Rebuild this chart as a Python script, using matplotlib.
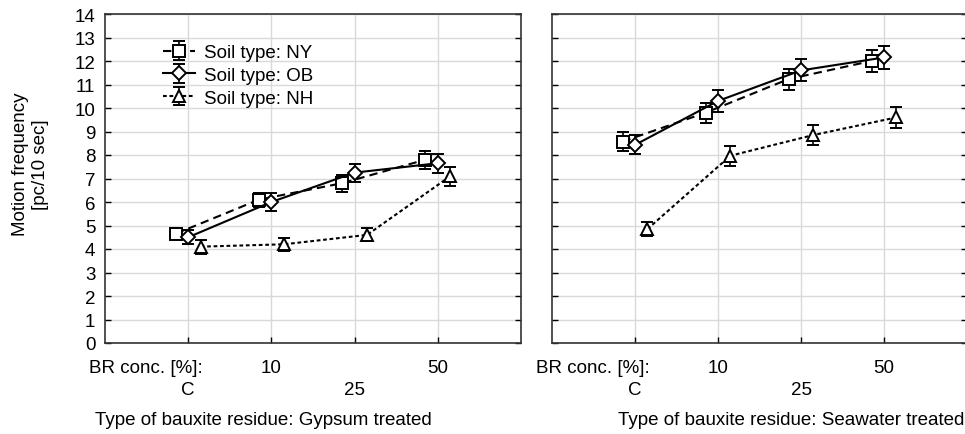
import numpy as np
import matplotlib
matplotlib.use("Agg")
import matplotlib.pyplot as plt

plt.rcParams["font.family"] = ["Liberation Sans", "DejaVu Sans"]

categories = ["C", "10", "25", "50"]
soils = ["Soil type: NY", "Soil type: OB", "Soil type: NH"]

# left panel: gypsum treated
gyp_ny = [4.65, 6.1, 6.8, 7.8]
gyp_ob = [4.5, 6.0, 7.25, 7.65]
gyp_nh = [4.1, 4.2, 4.6, 7.1]
gyp_ny_err = [0.24, 0.3, 0.37, 0.39]
gyp_ob_err = [0.3, 0.37, 0.38, 0.41]
gyp_nh_err = [0.3, 0.28, 0.28, 0.4]

# right panel
sea_ny = [8.57, 9.8, 11.23, 12.0]
sea_ob = [8.43, 10.3, 11.6, 12.15]
sea_nh = [4.85, 7.97, 8.85, 9.6]
sea_ny_err = [0.4, 0.42, 0.45, 0.48]
sea_ob_err = [0.4, 0.47, 0.47, 0.48]
sea_nh_err = [0.31, 0.43, 0.43, 0.45]

titles = ["Type of bauxite residue: Gypsum treated",
          "Type of bauxite residue: Seawater treated"]

styles = [
    dict(marker="s", ms=8.5, ls=(0, (4, 2.5)), dx=-0.15),
    dict(marker="D", ms=7.5, ls="-", dx=0.0),
    dict(marker="^", ms=9, ls=(0, (1.8, 1.3)), dx=0.15),
]

fs = 13.5
fig = plt.figure(figsize=(9.65, 4.35), dpi=100)
ax1 = fig.add_axes([105 / 965, 91 / 435, 416 / 965, 329 / 435])
ax2 = fig.add_axes([552 / 965, 91 / 435, 415 / 965, 329 / 435])

panels = [
    (ax1, [gyp_ny, gyp_ob, gyp_nh], [gyp_ny_err, gyp_ob_err, gyp_nh_err]),
    (ax2, [sea_ny, sea_ob, sea_nh], [sea_ny_err, sea_ob_err, sea_nh_err]),
]

x = np.arange(len(categories))
for ax, vals, errs in panels:
    for st, v, e, lab in zip(styles, vals, errs, soils):
        ax.errorbar(x + st["dx"], v, yerr=e, color="black", lw=1.5,
                    linestyle=st["ls"], marker=st["marker"], ms=st["ms"],
                    mfc="white", mec="black", mew=1.4, capsize=4,
                    elinewidth=1.2, capthick=1.2, label=lab, zorder=3)
    ax.set_xlim(-1, 4)
    ax.set_ylim(0, 14)
    ax.set_yticks(range(0, 15))
    # staggered category labels: 10 and 50 on the first row, C and 25 below
    ax.set_xticks(x[1::2])
    ax.set_xticklabels(categories[1::2])
    ax.set_xticks(x[0::2], minor=True)
    ax.set_xticklabels(categories[0::2], minor=True)
    ax.grid(True, which="both", axis="x", color="#d9d9d9", lw=1)
    ax.grid(True, which="major", axis="y", color="#d9d9d9", lw=1)
    ax.set_axisbelow(True)
    ax.tick_params(which="both", direction="in", length=4, width=1,
                   right=True, labelsize=fs)
    ax.tick_params(axis="x", which="major", pad=11.5)
    ax.tick_params(axis="x", which="minor", pad=27.5)
    ax.tick_params(axis="y", pad=7)
    for sp in ax.spines.values():
        sp.set_color("#333333")
        sp.set_linewidth(1.2)
    ax.annotate("BR conc. [%]:", xy=(0.18, -0.074),
                xycoords=("data", "axes fraction"), ha="right", va="center",
                fontsize=fs)

ax2.tick_params(labelleft=False)
ax1.set_ylabel("Motion frequency\n[pc/10 sec]", fontsize=fs)
ax1.yaxis.set_label_coords(-0.135, 0.545)

ax1.legend(loc="upper left", bbox_to_anchor=(0.1, 0.96), frameon=False,
           fontsize=fs, handlelength=1.7, labelspacing=0.3, handletextpad=0.45)

fig.text(95 / 965, 14 / 435, titles[0], ha="left", va="center", fontsize=fs)
fig.text(618 / 965, 14 / 435, titles[1], ha="left", va="center", fontsize=fs)

fig.savefig("out.png", dpi=100)
